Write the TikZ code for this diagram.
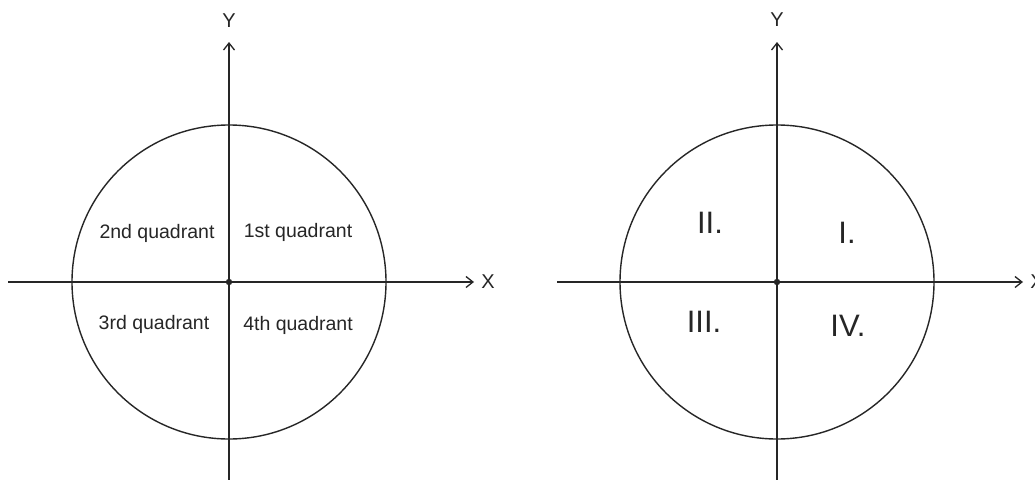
\documentclass[tikz,border=0pt]{standalone}
\usepackage{fontspec}
\setmainfont{Liberation Sans}
\usetikzlibrary{arrows.meta}
\definecolor{ink}{HTML}{262626}
\begin{document}
\begin{tikzpicture}[x=1pt,y=-1pt,
  axis/.style={draw=ink,line width=1.5pt},
  arr/.style={axis,-{Straight Barb[length=7pt,width=11pt,line width=1.3pt]}},
  circ/.style={draw=ink,line width=1.4pt},
  lbl/.style={text=ink,font=\fontsize{20}{22}\selectfont,inner sep=0pt},
  qlbl/.style={text=ink,font=\fontsize{19.5}{22}\selectfont,inner sep=0pt},
  rlbl/.style={text=ink,font=\fontsize{31}{34}\selectfont,inner sep=0pt}]
\useasboundingbox[fill=white] (0,0) rectangle (1035,479);
% left diagram
\coordinate (o1) at (229,282);
\coordinate (xl1) at (8,282);
\coordinate (xr1) at (474,282);
\coordinate (yt1) at (229,42);
\coordinate (yb1) at (229,480);
\draw[circ] (o1) circle[radius=157];
\draw[arr] (xl1) -- (xr1);
\draw[arr] (yb1) -- (yt1);
\fill[ink] (o1) circle[radius=3.2];
\node[lbl] (X1) at (488,282) {X};
\node[lbl] (Y1) at (229,21) {Y};
\node[qlbl] (q2) at (157,233) {2nd quadrant};
\node[qlbl] (q1) at (298,232) {1st quadrant};
\node[qlbl] (q3) at (154,324) {3rd quadrant};
\node[qlbl] (q4) at (298,325) {4th quadrant};
% right diagram
\coordinate (o2) at (777,282);
\coordinate (xl2) at (557,282);
\coordinate (xr2) at (1023,282);
\coordinate (yt2) at (777,42);
\coordinate (yb2) at (777,480);
\draw[circ] (o2) circle[radius=157];
\draw[arr] (xl2) -- (xr2);
\draw[arr] (yb2) -- (yt2);
\fill[ink] (o2) circle[radius=3.2];
\node[lbl] (X2) at (1037,282) {X};
\node[lbl] (Y2) at (777,20) {Y};
\node[rlbl] (r2) at (710,223) {II.};
\node[rlbl] (r1) at (847,233) {I.};
\node[rlbl] (r3) at (704,322) {III.};
\node[rlbl] (r4) at (848,326) {IV.};
\end{tikzpicture}
\end{document}
